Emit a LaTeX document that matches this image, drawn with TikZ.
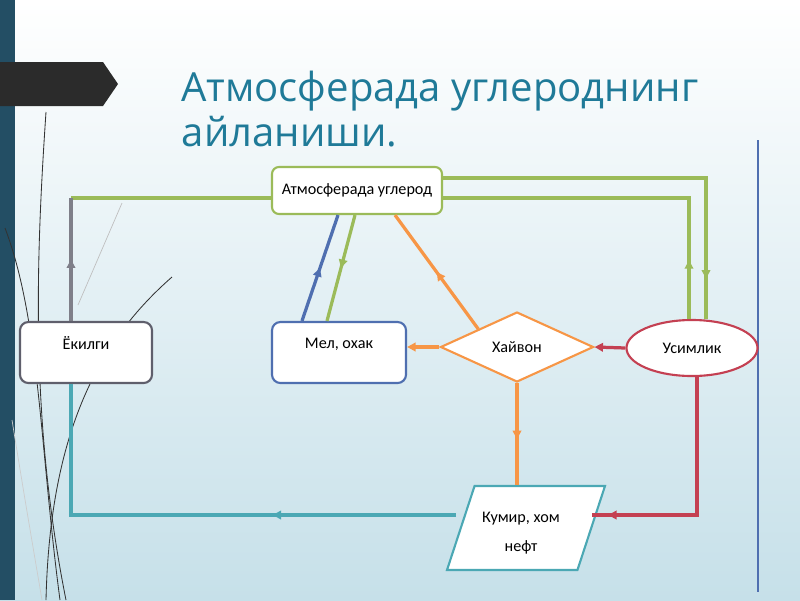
\documentclass[tikz,border=0pt]{standalone}
\usepackage{fontspec}
\setmainfont{Open Sans}
\newfontfamily\boxfont{Carlito}
\usetikzlibrary{shapes.geometric,decorations.markings,arrows.meta}

\definecolor{ttlblue}{RGB}{31,122,152}
\definecolor{boxgreen}{RGB}{155,187,89}
\definecolor{boxgray}{RGB}{95,95,108}
\definecolor{boxblue}{RGB}{79,111,176}
\definecolor{boxorange}{RGB}{247,150,70}
\definecolor{boxred}{RGB}{196,64,82}
\definecolor{boxteal}{RGB}{75,168,180}
\definecolor{stripblue}{RGB}{35,78,100}
\definecolor{bgblue}{RGB}{198,224,233}

\tikzset{
  cyclebox/.style={draw, fill=white, line width=1.5pt, font=\boxfont\fontsize{11.5}{21}\selectfont, inner sep=2pt, align=center},
  conn/.style={line width=2.3pt},
  midarrow/.style={postaction={decorate}, decoration={markings, mark=at position #1 with {\arrow{Triangle[length=6pt,width=6pt]}}}},
  midarrow/.default=0.5,
  endarrow/.style={-{Triangle[length=6pt,width=6pt]}},
}

\begin{document}
\begin{tikzpicture}[x=0.025cm, y=-0.025cm]
\useasboundingbox (0,0) rectangle (800,600);
\shade[top color=white, bottom color=bgblue] (0,0) rectangle (800,600);
\fill[stripblue] (0,0) rectangle (15,600);
\fill[black!83] (0,62) -- (103,62) -- (118,84) -- (103,106) -- (0,106) -- cycle;
\draw[black!80, line width=0.6pt] (46,112) .. controls (36,260) and (30,420) .. (66,600);
\draw[black!80, line width=0.6pt] (5,228) .. controls (40,320) and (40,450) .. (60,600);
\draw[black!80, line width=0.6pt] (172,277) .. controls (100,340) and (50,430) .. (46,600);
\draw[black!25, line width=0.5pt] (122,203) -- (78,305);
\draw[black!20, line width=0.5pt] (12,420) .. controls (25,500) .. (42,600);
\draw[boxblue, line width=1pt] (758,140) -- (758,592);

\node[anchor=base west, text=ttlblue, font=\fontsize{28.5}{34}\selectfont] (title1) at (177,101) {Атмосферада углероднинг};
\node[anchor=base west, text=ttlblue, font=\fontsize{28.5}{34}\selectfont] (title2) at (177,146) {айланиши.};

\node[cyclebox, draw=boxgreen, rounded corners=5pt, minimum width=4.25cm, minimum height=1.175cm] (atm) at (357,190.5) {Атмосферада углерод};
\node[cyclebox, draw=boxgray, rounded corners=6pt, minimum width=3.3cm, minimum height=1.525cm, text depth=0.45cm] (ek) at (86,352.5) {Ёкилги};
\node[cyclebox, draw=boxblue, rounded corners=6pt, minimum width=3.35cm, minimum height=1.525cm, text depth=0.45cm] (mel) at (339,352.5) {Мел, охак};
\node[cyclebox, draw=boxorange, diamond, aspect=2.19, inner sep=0pt, minimum width=3.825cm, minimum height=1.75cm] (hay) at (517,347) {Хайвон};
\node[cyclebox, draw=boxred, ellipse, minimum width=3.275cm, minimum height=1.4cm] (us) at (692,348) {Усимлик};
\node[cyclebox, draw=boxteal, trapezium, trapezium left angle=75, trapezium right angle=105, trapezium stretches=true, minimum width=3.95cm, minimum height=2.1cm] (kum) at (526,528) {};
\node[font=\boxfont\fontsize{11.5}{21}\selectfont, align=center] (kumtext) at (521,533) {Кумир, хом\\нефт};

\coordinate (ekbend) at (71,198);
\draw[conn, boxgreen] (atm.west |- ekbend) -- (ekbend);
\draw[conn, boxgray!80, midarrow] (ek.north -| ekbend) -- (ekbend);
\coordinate (kumbend) at (71,515);
\draw[conn, boxteal, midarrow=0.36, shorten <=2.5pt] (kum.west |- kumbend) -- (kumbend) -- (ek.south -| kumbend);
\draw[conn, boxblue, midarrow] ([xshift=-0.925cm]mel.north) -- ([xshift=-0.475cm]atm.south);
\draw[conn, boxgreen, midarrow] ([xshift=-0.05cm]atm.south) -- ([xshift=-0.3cm]mel.north);
\draw[conn, boxorange, midarrow] (hay.north west) -- ([xshift=0.95cm]atm.south);
\draw[conn, boxorange, endarrow] (hay.west) -- (mel.east |- hay.west);
\draw[conn, boxred, endarrow] (us.west) -- (hay.east);
\coordinate (usbend1) at (706,178);
\draw[conn, boxgreen, midarrow=0.9] (atm.east |- usbend1) -- (usbend1) -- (usbend1 |- us.north);
\coordinate (usbend2) at (689,198);
\draw[conn, boxgreen, midarrow=0.16] (usbend2 |- us.north) -- (usbend2) -- (atm.east |- usbend2);
\draw[conn, boxorange, midarrow=0.55] (hay.south) -- (hay.south |- kum.north);
\coordinate (usbend3) at (697,515);
\draw[conn, boxred, midarrow=0.935] (us.south -| usbend3) -- (usbend3) -- (kum.east |- usbend3);
\end{tikzpicture}
\end{document}
